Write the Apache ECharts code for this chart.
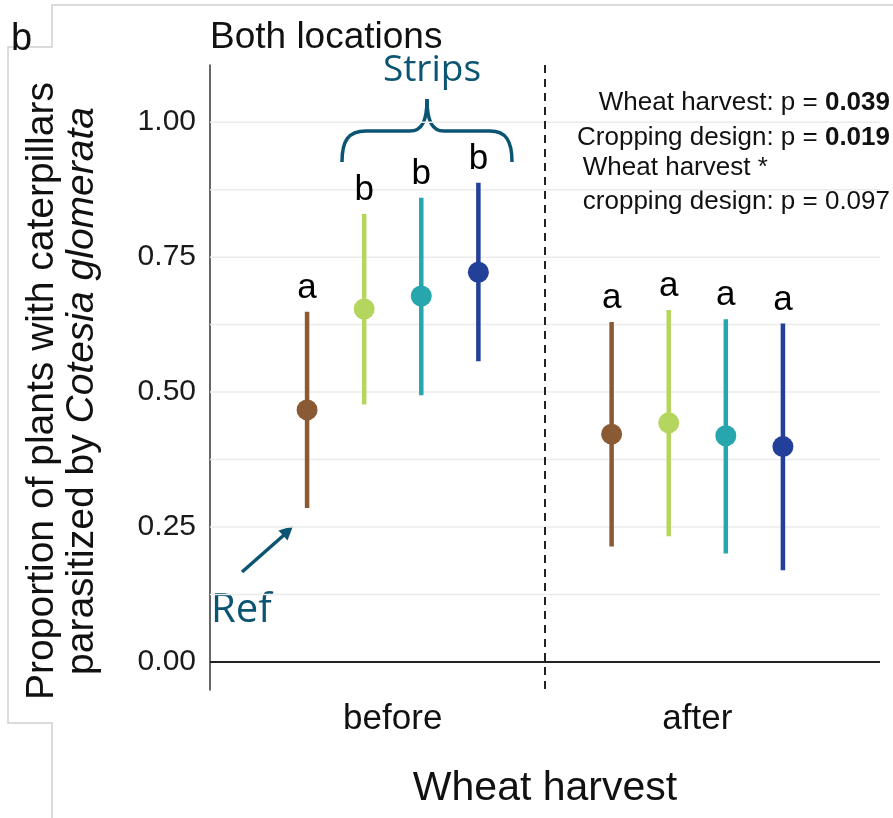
<!DOCTYPE html>
<html>
<head>
<meta charset="utf-8">
<script src="https://cdn.jsdelivr.net/npm/echarts@6/dist/echarts.min.js"></script>
<style>html,body{margin:0;padding:0;background:#fff}#c{width:893px;height:818px}</style>
</head>
<body>
<div id="c"></div>
<script>
// ---- data ----
const harvest = ['before', 'after'];
const designs = ['Ref', 'Strip 1', 'Strip 2', 'Strip 3'];
const refMean = [0.467, 0.422];
const refLow = [0.285, 0.214];
const refHigh = [0.649, 0.630];
const strip1Mean = [0.654, 0.443];
const strip1Low = [0.477, 0.233];
const strip1High = [0.830, 0.652];
const strip2Mean = [0.678, 0.419];
const strip2Low = [0.494, 0.201];
const strip2High = [0.860, 0.635];
const strip3Mean = [0.722, 0.399];
const strip3Low = [0.557, 0.170];
const strip3High = [0.888, 0.627];
const refLetters = ['a', 'a'];
const strip1Letters = ['b', 'a'];
const strip2Letters = ['b', 'a'];
const strip3Letters = ['b', 'a'];
const yTicks = [0, 0.25, 0.5, 0.75, 1.0];
const gridValues = [0.125, 0.25, 0.375, 0.5, 0.625, 0.75, 0.875, 1.0];
const harvestDivider = [1.5];

// ---- styles ----
const colors = ['#8a5a34', '#b5d65e', '#27a6ae', '#223f9a'];
const SANS = '"Liberation Sans", Arial, sans-serif';
const ANN = '#0b5573';
const dodgeWidth = 0.75;

const means = [refMean, strip1Mean, strip2Mean, strip3Mean];
const lows = [refLow, strip1Low, strip2Low, strip3Low];
const highs = [refHigh, strip1High, strip2High, strip3High];
const letters = [refLetters, strip1Letters, strip2Letters, strip3Letters];

function errSeries(k) {
  return {
    type: 'custom', name: designs[k], z: 10,
    data: harvest.map((h, i) => [i + 1, means[k][i], lows[k][i], highs[k][i]]),
    renderItem: function (params, api) {
      const x = api.value(0) + (k - 1.5) * dodgeWidth / 4;
      const pm = api.coord([x, api.value(1)]);
      const pl = api.coord([x, api.value(2)]);
      const ph = api.coord([x, api.value(3)]);
      const lab = letters[k][params.dataIndex];
      return {
        type: 'group',
        children: [
          { type: 'line', shape: { x1: pl[0], y1: pl[1], x2: ph[0], y2: ph[1] },
            style: { stroke: colors[k], lineWidth: 4.5 } },
          { type: 'circle', shape: { cx: pm[0], cy: pm[1], r: 10.5 },
            style: { fill: colors[k] } },
          { type: 'text', x: ph[0], y: ph[1] - 6,
            style: { text: lab, fill: '#000', font: '35px ' + SANS, align: 'center', verticalAlign: 'bottom' } }
        ]
      };
    }
  };
}

const gridSeries = {
  type: 'custom', z: 1, silent: true,
  data: gridValues.map(v => [1, v]),
  renderItem: function (params, api) {
    const cs = params.coordSys;
    const y = api.coord([1, api.value(1)])[1];
    return { type: 'line', shape: { x1: cs.x, y1: y, x2: cs.x + cs.width, y2: y },
      style: { stroke: '#ebebeb', lineWidth: 1.5 } };
  }
};
const zeroSeries = {
  type: 'custom', z: 3, silent: true,
  data: [[1, 0]],
  renderItem: function (params, api) {
    const cs = params.coordSys;
    const y = api.coord([1, api.value(1)])[1];
    return { type: 'line', shape: { x1: cs.x, y1: y, x2: cs.x + cs.width, y2: y },
      style: { stroke: '#222', lineWidth: 2 } };
  }
};
const dividerSeries = {
  type: 'custom', z: 3, silent: true,
  data: harvestDivider.map(v => [v, 0]),
  renderItem: function (params, api) {
    const cs = params.coordSys;
    const x = api.coord([api.value(0), 0])[0];
    return { type: 'line', shape: { x1: x, y1: cs.y, x2: x, y2: cs.y + cs.height },
      style: { stroke: '#222', lineWidth: 2, lineDash: [8, 6] } };
  }
};

// measure for left-aligning interaction line
const annFont = '26px ' + SANS;
const cv = document.createElement('canvas').getContext('2d');
cv.font = annFont;
const line4 = 'cropping design: p = 0.097';
const line4W = cv.measureText(line4).width;
const annRight = 890;

function bez(x1, y1, c1x, c1y, c2x, c2y, x2, y2) {
  return { type: 'bezierCurve', silent: true,
    shape: { x1: x1, y1: y1, cpx1: c1x, cpy1: c1y, cpx2: c2x, cpy2: c2y, x2: x2, y2: y2 },
    style: { stroke: ANN, lineWidth: 3.5, fill: null } };
}
function seg(x1, y1, x2, y2) {
  return { type: 'line', silent: true, shape: { x1: x1, y1: y1, x2: x2, y2: y2 },
    style: { stroke: ANN, lineWidth: 3.5 } };
}

const chart = echarts.init(document.getElementById('c'), null, { renderer: 'canvas' });
chart.setOption({
  backgroundColor: '#fff',
  animation: false,
  grid: { left: 210, right: 13, top: 65, bottom: 128 },
  xAxis: {
    type: 'value', min: 0.4, max: 2.6,
    axisLine: { show: false }, axisTick: { show: false }, splitLine: { show: false },
    axisLabel: { customValues: [1, 2], formatter: v => harvest[Math.round(v) - 1] || '',
      fontSize: 35, color: '#111', fontFamily: SANS, margin: 12 },
    name: 'Wheat harvest', nameLocation: 'middle', nameGap: 78,
    nameTextStyle: { fontSize: 41, color: '#111', fontFamily: SANS }
  },
  yAxis: {
    type: 'value', min: -0.052, max: 1.106,
    axisLine: { show: true, lineStyle: { color: '#333', width: 1.5 } },
    axisTick: { show: false }, splitLine: { show: false },
    axisLabel: { customValues: yTicks, formatter: v => v.toFixed(2),
      fontSize: 30, color: '#1a1a1a', fontFamily: SANS, margin: 14 }
  },
  series: [gridSeries, zeroSeries, dividerSeries, errSeries(0), errSeries(1), errSeries(2), errSeries(3)],
  graphic: [
    { type: 'polyline', silent: true, z: 0,
      shape: { points: [[52, 818], [52, 723], [8, 723], [8, 47], [52, 47], [52, 5], [893, 5]] },
      style: { stroke: '#cfcfcf', lineWidth: 1.5, fill: null } },
    { type: 'text', x: 11, y: 40, style: { text: 'b', font: '38px ' + SANS, fill: '#111', verticalAlign: 'middle' } },
    { type: 'text', x: 210, y: 38, style: { text: 'Both locations', font: '37px ' + SANS, fill: '#111', verticalAlign: 'middle' } },
    { type: 'text', x: 62, y: 391, rotation: Math.PI / 2,
      style: { text: 'Proportion of plants with caterpillars\nparasitized by {i|Cotesia glomerata}',
        font: '39px ' + SANS, fill: '#111', align: 'center', verticalAlign: 'middle', lineHeight: 40,
        rich: { i: { fontStyle: 'italic', fontSize: 39, fontFamily: SANS, fill: '#111' } } } },
    { type: 'text', x: annRight, y: 103,
      style: { text: 'Wheat harvest: p = {b|0.039}', font: annFont, fill: '#111', align: 'right', verticalAlign: 'middle',
        rich: { b: { fontWeight: 'bold', fontSize: 26, fontFamily: SANS, fill: '#111' } } } },
    { type: 'text', x: annRight, y: 138,
      style: { text: 'Cropping design: p = {b|0.019}', font: annFont, fill: '#111', align: 'right', verticalAlign: 'middle',
        rich: { b: { fontWeight: 'bold', fontSize: 26, fontFamily: SANS, fill: '#111' } } } },
    { type: 'text', x: annRight - line4W, y: 168,
      style: { text: 'Wheat harvest *', font: annFont, fill: '#111', align: 'left', verticalAlign: 'middle' } },
    { type: 'text', x: annRight, y: 202,
      style: { text: line4, font: annFont, fill: '#111', align: 'right', verticalAlign: 'middle' } },
    { type: 'text', x: 432, y: 70,
      style: { text: 'Strips', font: '37px "Open Sans", "DejaVu Sans", sans-serif', fill: ANN, align: 'center', verticalAlign: 'middle' } },
    bez(342, 162, 342, 141, 348, 131, 366, 131),
    seg(366, 131, 410, 131),
    bez(410, 131, 422, 131, 427, 121, 427, 99),
    bez(427, 99, 427, 121, 432, 131, 444, 131),
    seg(444, 131, 490, 131),
    bez(490, 131, 506, 131, 512, 141, 512, 162),
    { type: 'text', x: 211, y: 611,
      style: { text: 'Ref', font: '40px "Open Sans", "DejaVu Sans", sans-serif', fill: ANN, align: 'left', verticalAlign: 'middle' } },
    seg(242, 572, 284, 535),
    { type: 'polygon', silent: true, shape: { points: [[293, 526], [287.5, 540.5], [278.5, 530.5]] }, style: { fill: ANN } }
  ]
});
</script>
</body>
</html>
